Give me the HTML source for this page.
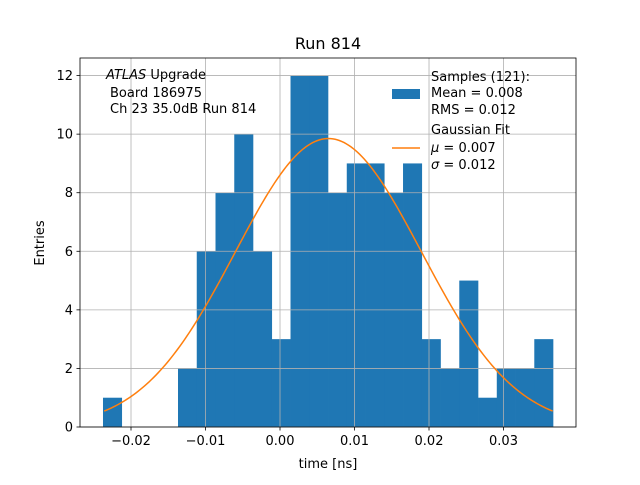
<!DOCTYPE html>
<html><head><meta charset="utf-8"><style>
body{margin:0;background:#fff;font-family:"Liberation Sans","DejaVu Sans",sans-serif}
svg text{font-family:"DejaVu Sans","Liberation Sans",sans-serif}
</style></head><body>
<svg id="c" width="640" height="480" xmlns="http://www.w3.org/2000/svg"></svg>
<script>
const binStart = -0.02376;
const binWidth = 0.002517;
const counts = [1,0,0,0,2,6,8,10,6,3,12,12,8,9,9,8,9,3,2,5,1,2,2,3];
const xTicks = [-0.02,-0.01,0.00,0.01,0.02,0.03];
const xTickLabels = ["−0.02","−0.01","0.00","0.01","0.02","0.03"];
const yTicks = [0,2,4,6,8,10,12];
const fitMu = 0.0065, fitSigma = 0.0125, fitAmp = 9.85;
const fitRange = [-0.0236, 0.0366];

const L=80,R=576,T=58,B=427;
const xMin=-0.026846, xMax=0.03973, yMin=0, yMax=12.6;
const X=v=>L+(v-xMin)/(xMax-xMin)*(R-L);
const Y=v=>B-(v-yMin)/(yMax-yMin)*(B-T);
const svg=document.getElementById('c');
const NS='http://www.w3.org/2000/svg';
function mk(tag,attrs,parent){const e=document.createElementNS(NS,tag);for(const k in attrs)e.setAttribute(k,attrs[k]);(parent||svg).appendChild(e);return e;}
function txt(s,attrs){const e=mk('text',attrs);e.textContent=s;return e;}

counts.forEach((c,i)=>{if(c<=0)return;
 const x0=X(binStart+i*binWidth),x1=X(binStart+(i+1)*binWidth);
 const r=mk('rect',{x:x0,y:Y(c),width:x1-x0+0.3,height:Y(0)-Y(c),fill:'#1f77b4'});
 
 
});
xTicks.forEach(v=>{const g=mk('line',{x1:X(v),x2:X(v),y1:T,y2:B,stroke:'#b0b0b0','stroke-width':0.8});
 });
yTicks.forEach(v=>{const g=mk('line',{x1:L,x2:R,y1:Y(v),y2:Y(v),stroke:'#b0b0b0','stroke-width':0.8});
 });
let d='';for(let k=0;k<=200;k++){const v=fitRange[0]+(fitRange[1]-fitRange[0])*k/200;
 const f=fitAmp*Math.exp(-0.5*((v-fitMu)/fitSigma)**2);d+=(k?'L':'M')+X(v).toFixed(2)+','+Y(f).toFixed(2);}
const fp=mk('path',{d:d,fill:'none',stroke:'#ff7f0e','stroke-width':1.5});

const fr=mk('rect',{x:L,y:T,width:R-L,height:B-T,fill:'none',stroke:'#000','stroke-width':0.8});

xTicks.forEach((v,i)=>{mk('line',{x1:X(v),x2:X(v),y1:B,y2:B+3.5,stroke:'#000','stroke-width':0.8});
 const t=txt(xTickLabels[i],{x:X(v),y:B+18,'font-size':13,'text-anchor':'middle'});
 });
yTicks.forEach(v=>{mk('line',{x1:L-3.5,x2:L,y1:Y(v),y2:Y(v),stroke:'#000','stroke-width':0.8});
 const t=txt(String(v),{x:L-7,y:Y(v)+4.5,'font-size':13,'text-anchor':'end'});
 });
</script>
<svg width="640" height="480" style="position:absolute;left:0;top:0" xmlns="http://www.w3.org/2000/svg">
<text x="328" y="49" font-size="16" text-anchor="middle" font-family="DejaVu Sans, Liberation Sans, sans-serif">Run 814</text>
<text x="328" y="468" font-size="13" text-anchor="middle" font-family="DejaVu Sans, Liberation Sans, sans-serif">time [ns]</text>
<text x="44" y="243" font-size="13" text-anchor="middle" transform="rotate(-90 44 243)" font-family="DejaVu Sans, Liberation Sans, sans-serif">Entries</text>
<g font-size="13" font-family="DejaVu Sans, Liberation Sans, sans-serif">
<text x="106" y="79"><tspan font-style="italic">ATLAS</tspan> Upgrade</text>
<text x="110" y="97">Board 186975</text>
<text x="110" y="113">Ch 23 35.0dB  Run 814</text>
</g>
<g font-size="13" font-family="DejaVu Sans, Liberation Sans, sans-serif">
<rect x="392" y="89" width="28" height="10" fill="#1f77b4"/>
<text x="431" y="81">Samples (121):</text>
<text x="431" y="97">Mean = 0.008</text>
<text x="431" y="114">RMS = 0.012</text>
<line x1="392" x2="420" y1="148" y2="148" stroke="#ff7f0e" stroke-width="1.5"/>
<text x="431" y="134">Gaussian Fit</text>
<text x="431" y="152"><tspan font-style="italic">μ</tspan> = 0.007</text>
<text x="431" y="169"><tspan font-style="italic">σ</tspan> = 0.012</text>
</g>
</svg>
</body></html>
